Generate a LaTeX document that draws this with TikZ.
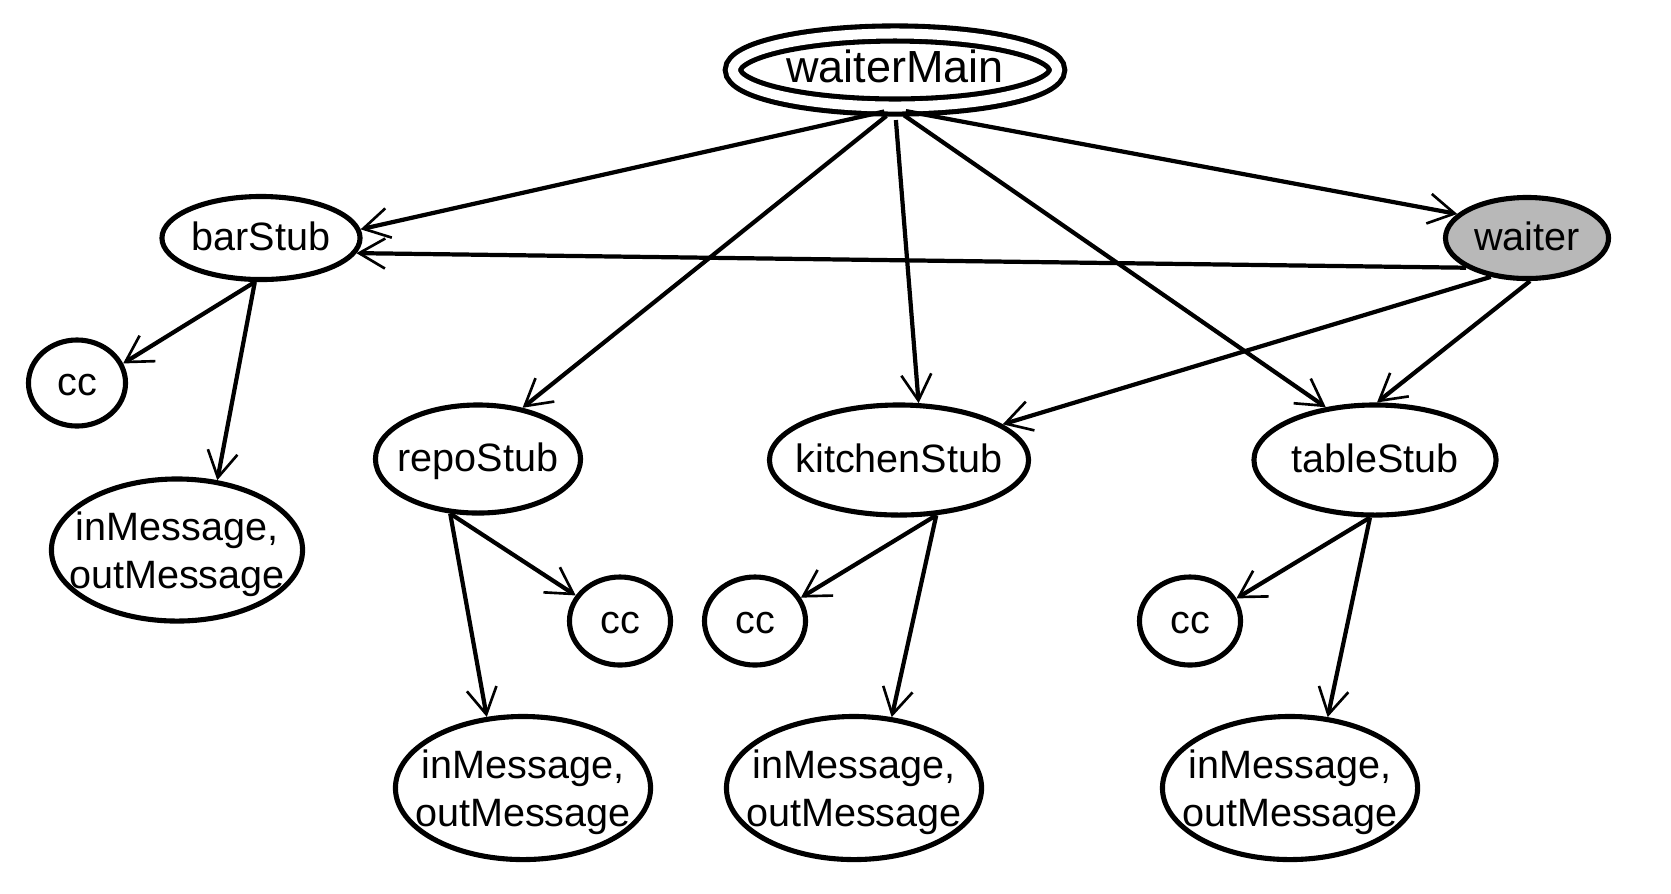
\documentclass[tikz,border=0pt]{standalone}
\usepackage{fontspec}
\setmainfont{Liberation Sans}
\usetikzlibrary{arrows.meta}
\usetikzlibrary{shapes.geometric}
\definecolor{waitergray}{RGB}{184,184,184}

\begin{document}
\begin{tikzpicture}[x=0.01cm,y=-0.01cm,
  obj/.style={draw,ellipse,line width=1.45pt,inner xsep=-0.25cm,inner ysep=0pt,
    font=\fontsize{11.25}{13.6}\selectfont,align=center,text depth=0pt},
  stub/.style={obj,text height=0.72em},
  cc/.style={stub,minimum width=1.01cm,minimum height=0.88cm},
  msg/.style={obj,minimum width=2.55cm,minimum height=1.43cm},
  edge/.style={line width=1.2pt,-{Straight Barb[length=0.26cm,width=0.3cm,line width=0.75pt]}}]

\useasboundingbox (0,0) rectangle (1671,893);

\node[stub,double,double distance=0.1cm,minimum width=3.24cm,minimum height=0.73cm,
  font=\fontsize{12.8}{15}\selectfont] (waiterMain) at (895,70) {waiterMain};

\node[stub,minimum width=1.98cm,minimum height=0.83cm] (barStub) at (261,238) {barStub};
\node[stub,fill=waitergray,minimum width=1.63cm,minimum height=0.81cm] (waiter) at (1527,238) {waiter};
\node[stub,minimum width=2.05cm,minimum height=1.08cm] (repoStub) at (478,459) {repoStub};
\node[stub,minimum width=2.59cm,minimum height=1.10cm] (kitchenStub) at (899,460) {kitchenStub};
\node[stub,minimum width=2.42cm,minimum height=1.10cm] (tableStub) at (1375,460) {tableStub};

\node[cc,minimum width=0.97cm,minimum height=0.86cm] (barCc) at (77,383) {cc};
\node[cc] (repoCc) at (620,621) {cc};
\node[cc] (kitchenCc) at (755,621) {cc};
\node[cc] (tableCc) at (1190,621) {cc};

\node[msg,minimum width=2.51cm,minimum height=1.42cm] (barMsg) at (177,550) {inMessage,\\outMessage};
\node[msg] (repoMsg) at (523,788) {inMessage,\\outMessage};
\node[msg] (kitchenMsg) at (854,788) {inMessage,\\outMessage};
\node[msg] (tableMsg) at (1290,788) {inMessage,\\outMessage};

\draw[edge,shorten <=0.11cm] (waiterMain.south) -- (barStub.5);
\draw[edge,shorten <=0.11cm] (waiterMain.south) -- (repoStub.49);
\draw[edge,shorten <=0.11cm] (waiterMain.south) -- (kitchenStub.71);
\draw[edge,shorten <=0.11cm] (waiterMain.south) -- (tableStub.133);
\draw[edge,shorten <=0.11cm] (waiterMain.south) -- (waiter.161);

\draw[edge] (waiter.206) -- (barStub.-9);
\draw[edge] (waiter.227) -- (kitchenStub.19);
\draw[edge] (waiter.-86) -- (tableStub.88);

\draw[edge] (barStub.-98) -- (barCc.23);
\draw[edge] (barStub.-98) -- (barMsg.60);
\draw[edge] (repoStub.-117) -- (repoCc.150);
\draw[edge] (repoStub.-117) -- (repoMsg.117);
\draw[edge] (kitchenStub.-56) -- (kitchenCc.27);
\draw[edge] (kitchenStub.-56) -- (kitchenMsg.62);
\draw[edge] (tableStub.-95) -- (tableCc.26);
\draw[edge] (tableStub.-95) -- (tableMsg.62);

\end{tikzpicture}
\end{document}
